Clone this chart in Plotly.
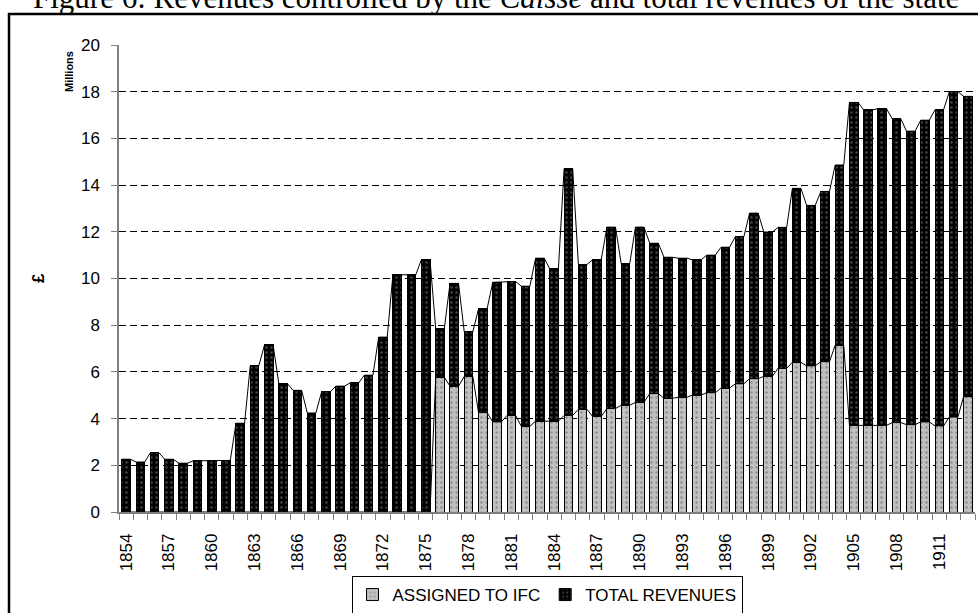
import numpy as np
import plotly.graph_objects as go

years = list(range(1854, 1914))
total_revenues = [
    2.26, 2.14, 2.54, 2.26, 2.09, 2.19, 2.21, 2.21, 3.80, 6.26,
    7.16, 5.50, 5.21, 4.24, 5.14, 5.39, 5.53, 5.86, 7.49, 10.16,
    10.16, 10.81, 7.84, 9.79, 7.71, 8.70, 9.84, 9.87, 9.67, 10.87,
    10.41, 14.71, 10.60, 10.80, 12.20, 10.64, 12.20, 11.51, 10.91, 10.87,
    10.80, 11.00, 11.34, 11.79, 12.80, 11.99, 12.19, 13.86, 13.13, 13.73,
    14.86, 17.54, 17.22, 17.27, 16.84, 16.31, 16.78, 17.23, 18.00, 17.80,
]
assigned_to_ifc = [
    0, 0, 0, 0, 0, 0, 0, 0, 0, 0,
    0, 0, 0, 0, 0, 0, 0, 0, 0, 0,
    0, 0, 5.77, 5.39, 5.81, 4.26, 3.86, 4.14, 3.67, 3.89,
    3.89, 4.14, 4.40, 4.09, 4.43, 4.57, 4.70, 5.07, 4.87, 4.91,
    5.01, 5.11, 5.31, 5.49, 5.71, 5.81, 6.16, 6.41, 6.26, 6.44,
    7.14, 3.71, 3.71, 3.71, 3.83, 3.74, 3.86, 3.69, 4.07, 4.94,
]
tick_years = list(range(1854, 1914, 3))
y_ticks = list(range(0, 21, 2))

# layout geometry (pixels)
W, H = 978, 613
L, R, T, B = 119, 3, 45, 101
PW, PH = W - L - R, H - T - B

def px(x):
    return (x - L) / PW

def py(y):
    return (H - B - y) / PH

yrs = np.array(years, dtype=float)
tot = np.array(total_revenues)
ifc = np.array(assigned_to_ifc)
rest = tot - ifc
hw = 0.3

fig = go.Figure()
fig.add_trace(go.Bar(
    x=yrs, y=ifc, name="ASSIGNED TO IFC",
    marker=dict(color="#c0c0c0", line=dict(color="black", width=1),
                pattern=dict(shape=".", bgcolor="#c0c0c0", fgcolor="#5a5a5a",
                             size=5, solidity=0.18)),
    hoverinfo="skip",
))
fig.add_trace(go.Bar(
    x=yrs, y=rest, name="TOTAL REVENUES",
    marker=dict(color="black", line=dict(color="black", width=1),
                pattern=dict(shape=".", bgcolor="black", fgcolor="#8a8a8a",
                             size=5, solidity=0.2)),
    hoverinfo="skip",
))

# series lines connecting bar tops
def series_line(vals):
    xs, ys = [], []
    for xv, yv in zip(yrs, vals):
        xs += [xv - hw, xv + hw]
        ys += [yv, yv]
    return xs, ys

for vals in (ifc, tot):
    xs, ys = series_line(vals)
    fig.add_trace(go.Scatter(x=xs, y=ys, mode="lines",
                             line=dict(color="black", width=1),
                             showlegend=False, hoverinfo="skip"))

fig.update_layout(
    width=W, height=H,
    margin=dict(l=L, r=R, t=T, b=B, autoexpand=False),
    paper_bgcolor="white", plot_bgcolor="white",
    barmode="stack", bargap=0.4,
    font=dict(family="Liberation Sans, Arial, sans-serif", size=17, color="black"),
    showlegend=True,
    legend=dict(orientation="h", x=0.5, xanchor="center", y=py(595), yanchor="middle",
                bordercolor="black", borderwidth=1, bgcolor="white",
                font=dict(size=17), itemwidth=30, tracegroupgap=0,
                traceorder="normal"),
    xaxis=dict(
        range=[1853.5, 1913.5], tickmode="array", tickvals=tick_years,
        ticktext=[str(t) for t in tick_years], tickangle=-90,
        ticks="outside", ticklen=0, showgrid=False, zeroline=False,
        showline=True, linecolor="#808080", linewidth=1.5,
        ticklabelstandoff=13,
        minor=dict(tick0=1853.5, dtick=1, ticks="outside", ticklen=6,
                   tickcolor="#808080", tickwidth=1, showgrid=False),
        fixedrange=True,
    ),
    yaxis=dict(
        range=[0, 20], tickmode="array", tickvals=y_ticks,
        ticks="outside", ticklen=6, tickcolor="#808080", tickwidth=1,
        showline=True, linecolor="#808080", linewidth=1.5,
        showgrid=True, gridcolor="black", gridwidth=1, griddash="7px,4px",
        zeroline=False, ticklabelstandoff=8, fixedrange=True,
    ),
    shapes=[dict(type="rect", xref="paper", yref="paper",
                 x0=px(9), x1=px(990), y0=py(640), y1=py(14),
                 line=dict(color="black", width=2.5), layer="below")],
    annotations=[
        dict(text="Figure 6: Revenues controlled by the <i>Caisse</i> and total revenues of the state",
             xref="paper", yref="paper", x=px(31), y=py(10), xanchor="left", yanchor="bottom",
             showarrow=False, yshift=-7,
             font=dict(family="Liberation Serif, Times New Roman, serif", size=31, color="black")),
        dict(text="<b>£</b>", xref="paper", yref="paper", x=px(38), y=py(278),
             xanchor="center", yanchor="middle", textangle=-90, showarrow=False,
             font=dict(size=17)),
        dict(text="<b>Millions</b>", xref="paper", yref="paper", x=px(69), y=py(72),
             xanchor="center", yanchor="middle", textangle=-90, showarrow=False,
             font=dict(size=11)),
    ],
)

fig.write_html("out.html")
